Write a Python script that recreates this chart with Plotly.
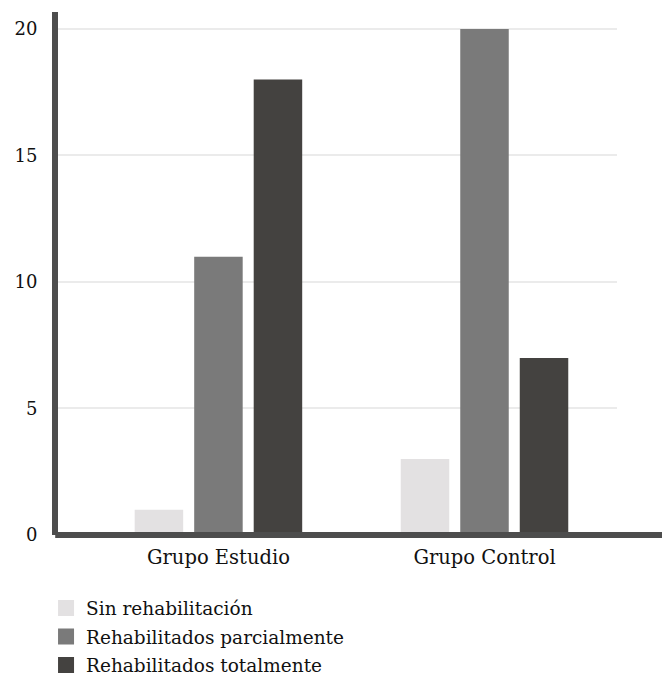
import plotly.graph_objects as go

categories = ["Grupo Estudio", "Grupo Control"]
series_names = ["Sin rehabilitación", "Rehabilitados parcialmente", "Rehabilitados totalmente"]
sin_rehab = [1, 3]
parcial = [11, 20]
total = [18, 7]
y_ticks = [0, 5, 10, 15, 20]

colors = ["#e3e1e2", "#7a7a7a", "#444240"]
values = [sin_rehab, parcial, total]
FONT = "DejaVu Serif"

fig = go.Figure()
for name, vals, col in zip(series_names, values, colors):
    fig.add_trace(go.Bar(x=categories, y=vals, name=name, marker_color=col,
                         marker_line_width=0, showlegend=False, legendgroup=name))
for name, col in zip(series_names, colors):
    fig.add_trace(go.Scatter(x=[None], y=[None], mode="markers", name=name,
                             marker=dict(symbol="square", size=22, color=col),
                             legendgroup=name, showlegend=True))

fig.update_layout(
    width=662, height=679,
    margin=dict(l=58, r=45, t=12, b=144, autoexpand=False),
    paper_bgcolor="white", plot_bgcolor="white",
    barmode="group", bargap=0.329, bargroupgap=0.185,
    font=dict(family=FONT, color="#111111", size=18),
    legend=dict(x=-0.0214, xanchor="left", y=-0.104, yanchor="top",
                font=dict(family=FONT, size=18.5, color="#111111"),
                itemsizing="trace", tracegroupgap=1.5, traceorder="grouped"),
    xaxis=dict(range=[-0.603, 1.498], showgrid=False, showline=False,
               ticks="", ticklabelstandoff=8,
               tickfont=dict(family=FONT, size=19.5, color="#111111")),
    yaxis=dict(range=[0, 20.67], tickvals=y_ticks, showgrid=True, gridcolor="#ebebeb",
               gridwidth=2, zeroline=False, showline=True, linecolor="#4d4d4d",
               linewidth=6, ticks="", ticklabelstandoff=11,
               tickfont=dict(family=FONT, size=18, color="#111111")),
    shapes=[dict(type="line", xref="paper", yref="paper", x0=-0.005, x1=1.09, y0=0, y1=0,
                 line=dict(color="#4d4d4d", width=6), layer="above")],
)

fig.write_html("out.html", config={"displayModeBar": False},
               post_script="document.body.style.margin='0';")
